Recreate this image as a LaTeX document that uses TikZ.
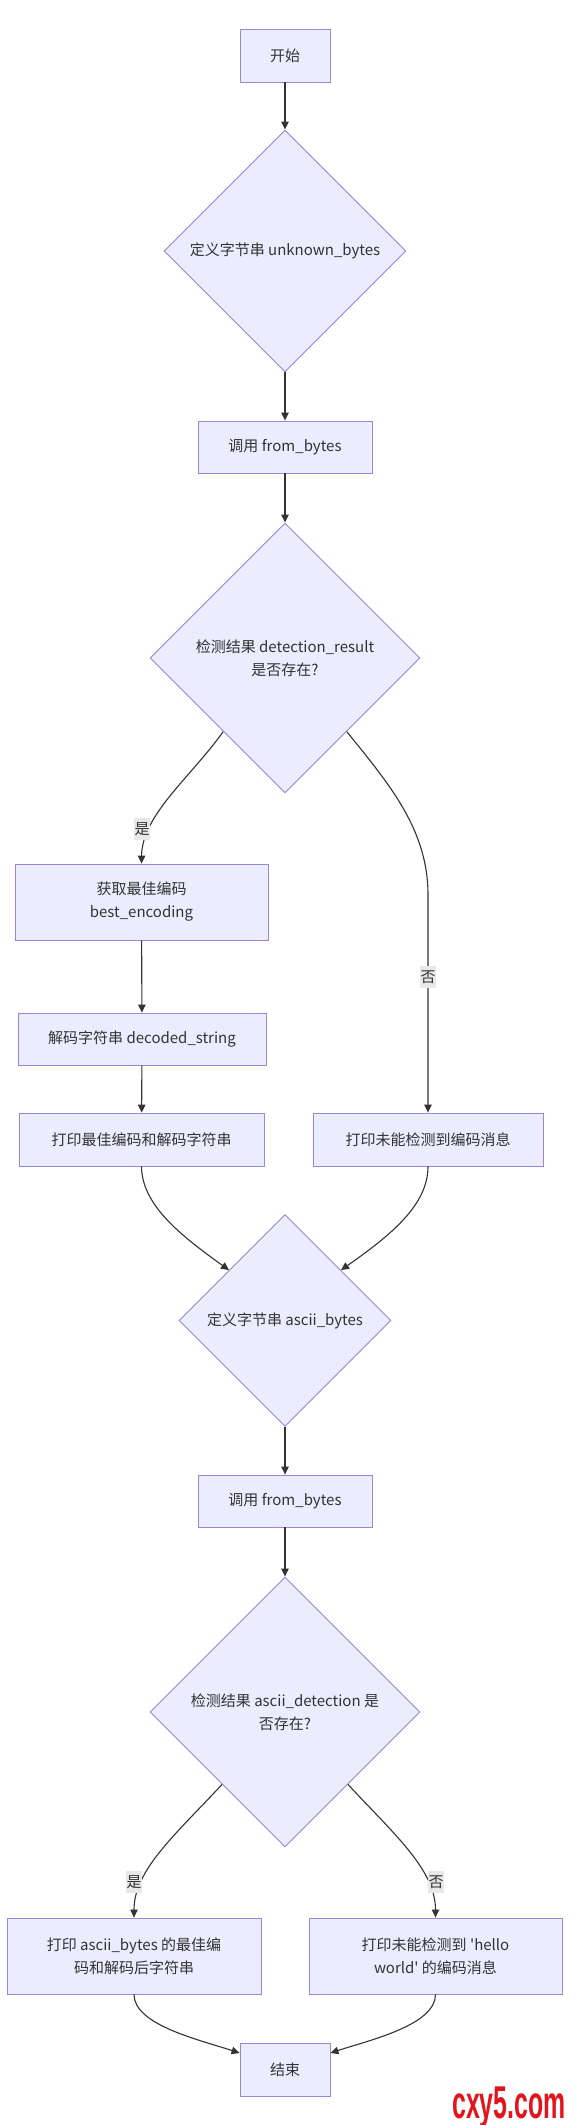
\documentclass[tikz,border=0pt]{standalone}
\usepackage{fontspec}
\setmainfont{Noto Sans CJK SC}
\newfontfamily\wmfont{Liberation Sans}
\usetikzlibrary{shapes.geometric,arrows.meta}
\definecolor{nodefill}{HTML}{ECECFF}
\definecolor{nodeline}{HTML}{9C84D6}
\definecolor{edgecol}{HTML}{333333}
\definecolor{txtcol}{HTML}{333333}
\definecolor{lblbg}{HTML}{E8E8E8}
\definecolor{wmred}{HTML}{E3141C}
\newcommand{\mainfs}{\fontsize{15}{23}\selectfont}
\begin{document}
\begin{tikzpicture}[x=1pt,y=-1pt,
  box/.style={rectangle, draw=nodeline, fill=nodefill, line width=0.9pt, inner sep=0pt, text=txtcol, align=center, font=\mainfs},
  decision/.style={diamond, aspect=1, draw=nodeline, fill=nodefill, line width=0.9pt, inner sep=0pt, text=txtcol, align=center, font=\mainfs},
  edge/.style={draw=edgecol, line width=1.1pt, -{Triangle[length=8pt,width=7.5pt]}},
  lbl/.style={fill=lblbg, inner sep=0pt, minimum width=16pt, minimum height=22pt, text=txtcol, font=\mainfs}]
\fill[white] (0,0) rectangle (570,2125);
\useasboundingbox (0,0) rectangle (570,2125);

\node[box, minimum width=90pt, minimum height=53pt] (start) at (285,55.5) {开始};
\node[decision, minimum width=242pt, minimum height=242pt] (d1) at (285,251) {定义字节串 unknown\_bytes};
\node[box, minimum width=174pt, minimum height=52pt] (call1) at (285,447) {调用 from\_bytes};
\node[decision, minimum width=270pt, minimum height=270pt] (d2) at (285,658) {检测结果 detection\_result\\是否存在?};
\node[box, minimum width=253pt, minimum height=76pt] (getenc) at (141.5,902) {获取最佳编码\\best\_encoding};
\node[box, minimum width=248pt, minimum height=52pt] (decode) at (142,1039) {解码字符串 decoded\_string};
\node[box, minimum width=245pt, minimum height=53pt] (print1) at (141.5,1139.5) {打印最佳编码和解码字符串};
\node[box, minimum width=230pt, minimum height=53pt] (print2) at (428,1139.5) {打印未能检测到编码消息};
\node[decision, minimum width=212pt, minimum height=212pt] (d3) at (285,1320.5) {定义字节串 ascii\_bytes};
\node[box, minimum width=174pt, minimum height=52pt] (call2) at (285,1501) {调用 from\_bytes};
\node[decision, minimum width=270pt, minimum height=270pt] (d4) at (285,1712) {检测结果 ascii\_detection 是\\否存在?};
\node[box, minimum width=254pt, minimum height=76pt] (print3) at (134,1956) {打印 ascii\_bytes 的最佳编\\码和解码后字符串};
\node[box, minimum width=253pt, minimum height=76pt] (print4) at (435.5,1956) {打印未能检测到 \textquotesingle hello\\world\textquotesingle{} 的编码消息};
\node[box, minimum width=90pt, minimum height=53pt] (finish) at (285,2069.5) {结束};

\draw[edge] (start) -- (d1);
\draw[edge] (d1) -- (call1);
\draw[edge] (call1) -- (d2);
\draw[edge] (d2.230) .. controls (190,778) and (142,815) .. (getenc.north);
\draw[edge] (d2.310) .. controls (390,785) and (428,830) .. (428,895) -- (print2.north);
\draw[edge] (getenc) -- (decode);
\draw[edge] (decode) -- (print1);
\draw[edge] (print1.south) .. controls (142,1205) and (180,1235) .. (d3.138);
\draw[edge] (print2.south) .. controls (428,1205) and (391,1235) .. (d3.42);
\draw[edge] (d3) -- (call2);
\draw[edge] (call2) -- (d4);
\draw[edge] (d4.229) .. controls (175,1835) and (134,1870) .. (print3.north);
\draw[edge] (d4.311) .. controls (395,1835) and (435.5,1870) .. (print4.north);
\draw[edge] (print3.south) .. controls (134,2025) and (200,2040) .. (finish.160);
\draw[edge] (print4.south) .. controls (435.5,2025) and (370,2040) .. (finish.20);

\node[lbl] (yes1) at (142,829) {是};
\node[lbl] (no1) at (428,977) {否};
\node[lbl] (yes2) at (134,1882) {是};
\node[lbl] (no2) at (436,1882) {否};

\node[anchor=base west, inner sep=0pt, text=wmred] (wm) at (452,2118)
  {\wmfont\bfseries\fontsize{46}{46}\selectfont\scalebox{0.54}[1]{cxy5.com}};
\end{tikzpicture}
\end{document}
